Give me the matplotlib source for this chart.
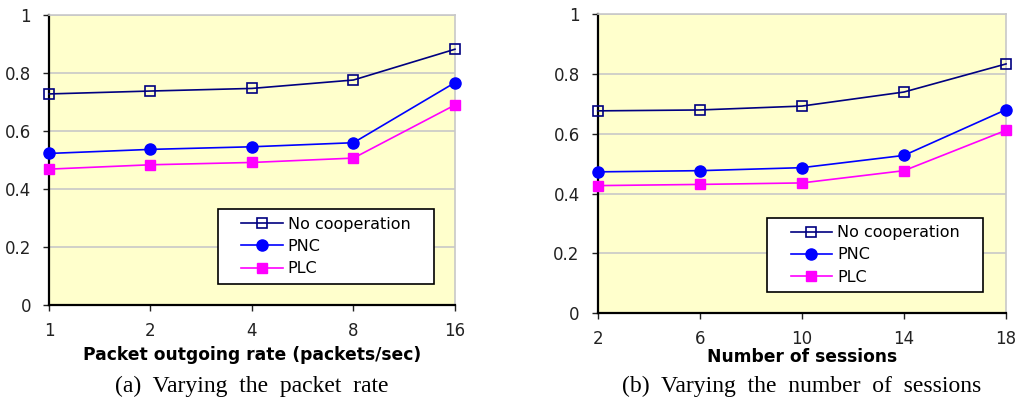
import matplotlib
matplotlib.use("Agg")
import matplotlib.pyplot as plt
from matplotlib.patches import Rectangle

# --- data ---
rate_labels = ["1", "2", "4", "8", "16"]
rate_nocoop = [0.727, 0.737, 0.746, 0.775, 0.881]
rate_pnc = [0.522, 0.536, 0.545, 0.559, 0.766]
rate_plc = [0.468, 0.483, 0.491, 0.506, 0.689]

sess_labels = ["2", "6", "10", "14", "18"]
sess_nocoop = [0.677, 0.680, 0.693, 0.740, 0.834]
sess_pnc = [0.473, 0.477, 0.487, 0.528, 0.681]
sess_plc = [0.427, 0.431, 0.436, 0.477, 0.612]

series_names = ["No cooperation", "PNC", "PLC"]
yticks = [0, 0.2, 0.4, 0.6, 0.8, 1]
ytick_labels = ["0", "0.2", "0.4", "0.6", "0.8", "1"]

BG = "#FFFFCC"
GRID = "#C8C8C8"
SANS = "DejaVu Sans"
SERIF = "Liberation Serif"


def draw_panel(fig, ax, labels, nocoop, pnc, plc, xlabel, caption, legbox, xlabel_y):
    x = list(range(len(labels)))
    ax.set_facecolor(BG)
    ax.plot(x, nocoop, color="#000080", lw=1.2, marker="s", ms=7,
            mfc="none", mec="#000080", mew=1.2, clip_on=False, zorder=3,
            label=series_names[0])
    ax.plot(x, pnc, color="#0000FF", lw=1.2, marker="o", ms=8,
            mfc="#0000FF", mec="#0000FF", clip_on=False, zorder=3,
            label=series_names[1])
    ax.plot(x, plc, color="#FF00FF", lw=1.2, marker="s", ms=7,
            mfc="#FF00FF", mec="#FF00FF", clip_on=False, zorder=3,
            label=series_names[2])

    ax.set_xlim(0, len(labels) - 1)
    ax.set_ylim(0, 1)
    ax.set_xticks(x)
    ax.set_xticklabels(labels, family=SANS, fontsize=12)
    ax.set_yticks(yticks)
    ax.set_yticklabels(ytick_labels, family=SANS, fontsize=12)
    ax.yaxis.grid(True, color=GRID, lw=1.2)
    ax.set_axisbelow(True)
    ax.tick_params(axis="x", direction="out", length=4, width=1, pad=8, colors="#222222")
    ax.tick_params(axis="y", direction="out", length=4, width=1, pad=9, colors="#222222")

    for side in ("left", "bottom"):
        ax.spines[side].set_color("black")
        ax.spines[side].set_linewidth(1.6)
    for side in ("top", "right"):
        ax.spines[side].set_color(GRID)
        ax.spines[side].set_linewidth(1.2)

    pos = ax.get_position()
    cx = (pos.x0 + pos.x1) / 2
    fig.text(cx, 1 - xlabel_y / 399, xlabel, ha="center", va="center",
             family=SANS, fontsize=12.3, fontweight="bold")
    fig.text(cx, 1 - 386 / 399, caption, ha="center", va="center",
             family=SERIF, fontsize=17)

    # legend: white box with black border, entries centred inside
    bx, by, bw, bh = legbox
    ax.add_patch(Rectangle((bx, by), bw, bh, transform=ax.transAxes,
                           facecolor="white", edgecolor="black", lw=1.2, zorder=4))
    leg = ax.legend(loc="center", bbox_to_anchor=(bx + bw / 2, by + bh / 2),
                    frameon=False, handlelength=2.6,
                    prop={"family": SANS, "size": 11.5}, labelspacing=0.45,
                    borderpad=0, handletextpad=0.3)
    leg.set_zorder(5)


fig = plt.figure(figsize=(10.16, 3.99), dpi=100)
ax1 = fig.add_axes([0.0482, 0.2356, 0.3996, 0.7276])
ax2 = fig.add_axes([0.5883, 0.2148, 0.4019, 0.7494])

draw_panel(fig, ax1, rate_labels, rate_nocoop, rate_pnc, rate_plc,
           "Packet outgoing rate (packets/sec)", "(a)  Varying  the  packet  rate",
           (0.416, 0.072, 0.532, 0.259), 355)
draw_panel(fig, ax2, sess_labels, sess_nocoop, sess_pnc, sess_plc,
           "Number of sessions", "(b)  Varying  the  number  of  sessions",
           (0.415, 0.071, 0.529, 0.248), 357.5)

fig.savefig("out.png", dpi=100)
